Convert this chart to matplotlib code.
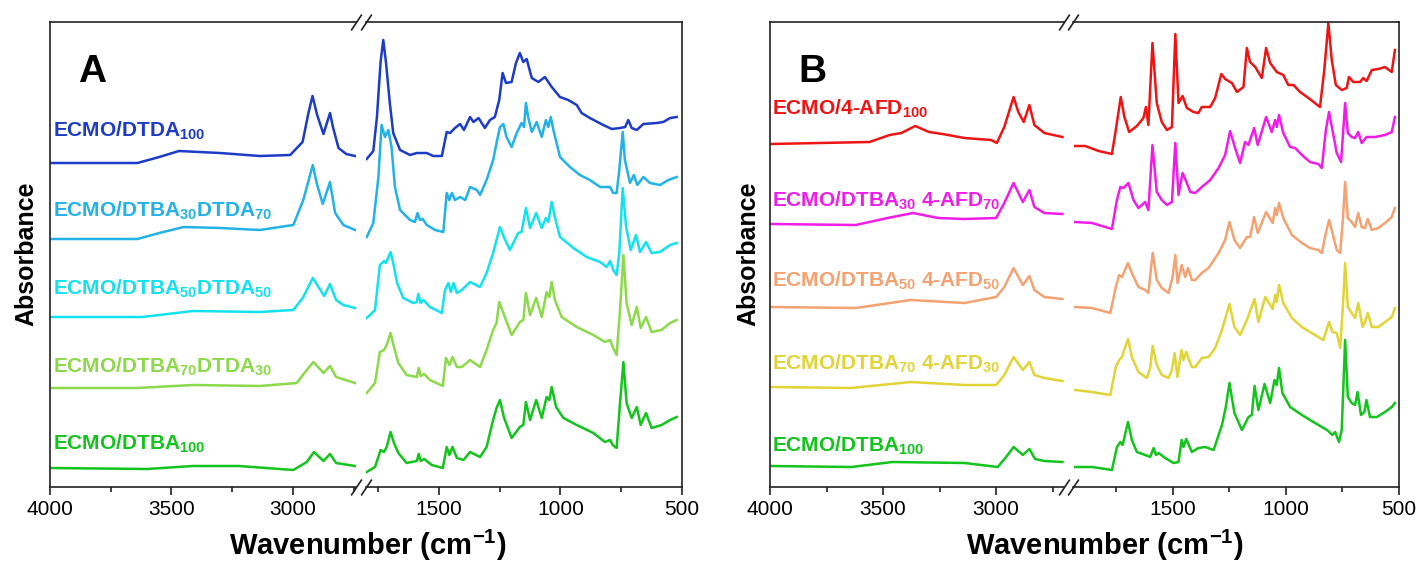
import matplotlib
matplotlib.use('Agg')
import matplotlib.pyplot as plt

plt.rcParams['font.family'] = ['Liberation Sans', 'DejaVu Sans']
plt.rcParams['mathtext.fontset'] = 'custom'
plt.rcParams['mathtext.rm'] = 'Liberation Sans'
plt.rcParams['mathtext.bf'] = 'Liberation Sans:bold'
plt.rcParams['mathtext.it'] = 'Liberation Sans:italic'

NaN = float('nan')

# ---------------- Panel A data (wavenumber, absorbance in arbitrary units) -------------
A1_wn = [4000, 3800, 3640, 3550, 3469, 3300, 3136, 3011, 2960, 2935, 2919, 2900, 2874, 2847, 2835, 2812, 2780, 2744, NaN,
         1797, 1770, 1755, 1740, 1729, 1718, 1702, 1688, 1660, 1619, 1591, 1550, 1523, 1488, 1468, 1454, 1434, 1413, 1397,
         1372, 1358, 1337, 1311, 1290, 1270, 1252, 1238, 1224, 1201, 1183, 1167, 1153, 1139, 1118, 1091, 1064, 1036, 1002,
         968, 933, 913, 879, 824, 789, 755, 734, 721, 707, 686, 659, 604, 577, 549, 522]
A1_ab = [324, 324, 324, 330, 336, 334, 331, 332, 345, 375, 391, 372, 353, 374, 360, 339, 333, 331, NaN,
         328, 336, 370, 425, 447, 425, 384, 354, 337, 332, 334, 334, 331, 331, 355, 354, 359, 363, 357,
         370, 365, 369, 359, 367, 370, 387, 414, 404, 405, 424, 434, 425, 428, 409, 405, 410, 400, 390,
         387, 382, 374, 369, 362, 358, 359, 360, 367, 359, 357, 363, 364, 365, 369, 370]

A2_wn = [4000, 3640, 3550, 3450, 3300, 3136, 2998, 2957, 2918, 2902, 2877, 2847, 2826, 2792, 2744, NaN,
         1797, 1770, 1749, 1736, 1722, 1708, 1695, 1681, 1660, 1619, 1599, 1588, 1578, 1567, 1550, 1516, 1482, 1468,
         1457, 1447, 1434, 1413, 1392, 1372, 1344, 1331, 1304, 1277, 1263, 1249, 1235, 1222, 1201, 1180, 1160, 1150,
         1142, 1132, 1118, 1098, 1077, 1060, 1050, 1040, 1029, 1002, 961, 920, 879, 837, 796, 783, 769, 758, 744, 735,
         714, 698, 684, 659, 632, 591, 556, 522]
A2_ab = [248, 248, 254, 260, 259, 257, 262, 287, 322, 304, 283, 305, 274, 262, 257, NaN,
         250, 264, 310, 362, 350, 357, 340, 300, 277, 267, 265, 274, 267, 268, 262, 257, 255, 294,
         287, 294, 287, 290, 287, 300, 297, 292, 307, 327, 344, 360, 363, 350, 340, 354, 364, 360,
         384, 369, 355, 365, 350, 367, 360, 370, 357, 330, 320, 312, 307, 300, 300, 294, 294, 317, 355, 327,
         304, 312, 302, 310, 304, 302, 307, 310]

A3_wn = [4000, 3620, 3412, 3136, 2998, 2957, 2918, 2871, 2847, 2822, 2792, 2744, NaN,
         1797, 1763, 1743, 1726, 1718, 1699, 1688, 1672, 1647, 1606, 1591, 1585, 1575, 1564, 1537, 1488, 1475, 1461,
         1451, 1440, 1426, 1406, 1372, 1331, 1304, 1277, 1263, 1249, 1233, 1208, 1174, 1160, 1142, 1125, 1100, 1077,
         1060, 1050, 1036, 1023, 1002, 947, 892, 837, 810, 796, 783, 769, 758, 744, 730, 711, 689, 673, 648, 625, 591,
         549, 522]
A3_ab = [170, 170, 176, 175, 177, 190, 209, 191, 203, 187, 182, 179, NaN,
         169, 177, 222, 226, 224, 235, 224, 204, 189, 184, 185, 193, 184, 187, 180, 174, 197, 204,
         195, 204, 194, 197, 205, 200, 214, 234, 247, 260, 250, 237, 254, 255, 279, 259, 274, 259,
         269, 265, 285, 270, 250, 239, 230, 225, 220, 226, 217, 212, 234, 299, 260, 237, 252, 235, 245, 234, 235,
         242, 244]

A4_wn = [4000, 3640, 3412, 3136, 2984, 2943, 2915, 2874, 2847, 2822, 2744, NaN,
         1797, 1763, 1743, 1726, 1715, 1699, 1685, 1667, 1633, 1591, 1583, 1575, 1561, 1537, 1484, 1471, 1457, 1444,
         1426, 1406, 1372, 1331, 1304, 1277, 1263, 1252, 1235, 1201, 1167, 1153, 1142, 1125, 1100, 1077, 1057, 1046,
         1036, 1023, 995, 933, 865, 817, 796, 785, 769, 755, 741, 728, 707, 686, 670, 648, 625, 584, 549, 522]
A4_ab = [99, 99, 102, 101, 104, 117, 125, 114, 121, 110, 104, NaN,
         94, 104, 135, 137, 142, 154, 140, 124, 112, 110, 119, 111, 113, 107, 101, 129, 122, 130,
         120, 120, 127, 120, 137, 157, 164, 185, 174, 152, 165, 167, 194, 172, 189, 170, 195, 190,
         205, 187, 170, 160, 152, 145, 147, 140, 132, 177, 232, 184, 162, 180, 159, 170, 155, 157, 164, 167]

A5_wn = [4000, 3600, 3412, 3222, 2998, 2984, 2943, 2913, 2874, 2847, 2822, 2744, NaN,
         1797, 1763, 1740, 1726, 1715, 1699, 1685, 1667, 1633, 1591, 1583, 1575, 1561, 1530, 1484, 1468, 1457, 1444,
         1426, 1399, 1372, 1331, 1304, 1277, 1263, 1249, 1233, 1201, 1167, 1153, 1142, 1125, 1100, 1077, 1057, 1046,
         1036, 1018, 988, 933, 865, 817, 796, 785, 769, 755, 741, 728, 707, 686, 670, 648, 625, 584, 549, 522]
A5_ab = [19, 18, 21, 21, 17, 19, 25, 35, 26, 33, 24, 21, NaN,
         15, 20, 37, 35, 40, 55, 44, 34, 24, 26, 33, 26, 28, 22, 19, 40, 32, 40,
         29, 27, 35, 30, 40, 67, 79, 87, 70, 49, 60, 62, 85, 67, 87, 69, 90, 87,
         100, 80, 69, 62, 54, 45, 47, 42, 39, 84, 125, 84, 69, 80, 62, 74, 59, 62, 67, 70]

# ---------------- Panel B data ----------------
B1_wn = [4000, 3560, 3471, 3419, 3358, 3297, 3237, 3140, 3022, 2997, 2964, 2923, 2902, 2878, 2853, 2831, 2787, 2707, NaN,
         1930, 1886, 1827, 1768, 1751, 1729, 1713, 1692, 1658, 1629, 1618, 1607, 1589, 1570, 1548, 1525, 1503, 1488,
         1474, 1456, 1437, 1408, 1386, 1371, 1334, 1312, 1285, 1268, 1238, 1216, 1187, 1172, 1158, 1135, 1106, 1087,
         1069, 1040, 1011, 989, 966, 937, 900, 849, 830, 812, 797, 779, 753, 731, 721, 702, 672, 658, 643, 620, 591,
         562, 532, 518]
B1_ab = [343, 345, 352, 354, 361, 355, 353, 349, 347, 344, 360, 390, 375, 365, 382, 362, 354, 350, NaN,
         341, 341, 336, 333, 357, 390, 370, 355, 361, 369, 380, 362, 444, 384, 365, 357, 360, 453,
         384, 391, 379, 375, 374, 380, 380, 389, 413, 408, 404, 395, 400, 439, 425, 420, 409, 439,
         424, 415, 412, 402, 402, 395, 389, 380, 417, 464, 427, 402, 397, 399, 410, 405, 405, 409, 406, 417, 418,
         420, 415, 437]

B2_wn = [4000, 3621, 3480, 3368, 3257, 3140, 3000, 2964, 2923, 2882, 2853, 2831, 2787, 2707, NaN,
         1930, 1856, 1768, 1746, 1731, 1717, 1695, 1673, 1651, 1621, 1607, 1589, 1570, 1548, 1525, 1503, 1488, 1474,
         1456, 1437, 1422, 1400, 1371, 1334, 1297, 1268, 1246, 1224, 1202, 1180, 1165, 1140, 1124, 1087, 1062, 1047,
         1040, 1030, 1011, 981, 959, 929, 893, 856, 841, 823, 809, 794, 775, 756, 746, 738, 726, 709, 694, 680, 665,
         643, 606, 562, 532, 518]
B2_ab = [263, 262, 269, 274, 269, 268, 269, 284, 304, 285, 297, 280, 274, 273, NaN,
         265, 264, 258, 287, 300, 299, 304, 287, 279, 285, 277, 342, 295, 287, 282, 285, 344, 292,
         314, 304, 295, 294, 300, 307, 319, 332, 356, 339, 324, 345, 342, 359, 342, 370, 355, 367,
         360, 372, 354, 340, 339, 332, 325, 323, 319, 357, 375, 357, 334, 325, 357, 384, 354, 350, 349, 355, 344,
         350, 350, 352, 355, 370]

B3_wn = [4000, 3621, 3378, 3140, 3000, 2964, 2923, 2882, 2853, 2831, 2787, 2707, NaN,
         1930, 1856, 1775, 1751, 1736, 1724, 1697, 1680, 1651, 1621, 1607, 1588, 1570, 1548, 1518, 1500, 1488, 1478,
         1460, 1444, 1432, 1415, 1400, 1371, 1341, 1297, 1268, 1249, 1227, 1202, 1172, 1158, 1140, 1124, 1087, 1058,
         1047, 1040, 1030, 1011, 973, 929, 893, 856, 841, 823, 809, 794, 775, 760, 748, 738, 726, 709, 694, 680, 665,
         650, 638, 620, 591, 562, 532, 518]
B3_ab = [180, 179, 187, 184, 190, 200, 219, 202, 211, 197, 190, 188, NaN,
         180, 179, 174, 200, 212, 210, 224, 214, 200, 197, 194, 234, 207, 199, 194, 210, 232, 204,
         222, 210, 219, 207, 207, 214, 219, 234, 247, 265, 247, 239, 250, 250, 270, 254, 275, 264,
         279, 272, 284, 269, 252, 244, 239, 237, 234, 254, 267, 254, 237, 234, 267, 305, 269, 265, 260, 274, 260,
         259, 268, 257, 259, 264, 270, 279]

B4_wn = [4000, 3643, 3378, 3140, 3000, 2964, 2923, 2882, 2853, 2831, 2787, 2707, NaN,
         1930, 1856, 1775, 1751, 1736, 1724, 1697, 1680, 1651, 1614, 1599, 1588, 1570, 1548, 1518, 1503, 1491, 1479,
         1460, 1452, 1440, 1415, 1400, 1371, 1341, 1312, 1282, 1249, 1227, 1202, 1172, 1138, 1121, 1091, 1058, 1047,
         1040, 1030, 1011, 973, 929, 893, 849, 834, 809, 794, 775, 760, 748, 738, 726, 709, 694, 680, 661, 650, 638,
         620, 591, 562, 532, 518]
B4_ab = [100, 99, 105, 102, 102, 112, 130, 117, 125, 112, 109, 106, NaN,
         97, 95, 92, 120, 127, 130, 148, 130, 115, 109, 119, 141, 122, 112, 109, 117, 134, 110,
         137, 127, 135, 120, 120, 129, 130, 139, 157, 183, 160, 152, 167, 188, 165, 190, 178, 192,
         185, 202, 184, 169, 160, 155, 149, 147, 165, 155, 154, 139, 180, 224, 180, 174, 169, 184, 160, 165, 174,
         160, 160, 165, 170, 179]

B5_wn = [4000, 3640, 3459, 3140, 2993, 2956, 2923, 2882, 2853, 2828, 2787, 2707, NaN,
         1930, 1856, 1768, 1746, 1731, 1721, 1697, 1680, 1658, 1621, 1599, 1584, 1573, 1562, 1533, 1496, 1474, 1460,
         1452, 1440, 1415, 1386, 1356, 1319, 1282, 1265, 1249, 1227, 1194, 1165, 1150, 1138, 1121, 1094, 1069, 1050,
         1040, 1030, 1015, 981, 929, 893, 856, 818, 794, 782, 765, 753, 738, 726, 709, 694, 683, 668, 653, 644, 628,
         598, 562, 532, 518]
B5_ab = [21, 20, 25, 24, 20, 30, 40, 32, 38, 28, 26, 25, NaN,
         20, 20, 17, 40, 45, 42, 65, 47, 35, 32, 30, 39, 32, 34, 29, 24, 25, 47,
         40, 48, 35, 39, 40, 37, 62, 80, 104, 74, 57, 70, 72, 101, 77, 103, 84, 107,
         102, 119, 94, 80, 72, 67, 62, 57, 52, 55, 45, 57, 147, 90, 84, 82, 95, 72, 75, 87, 70,
         70, 75, 80, 84]

A_series = [(A1_wn, A1_ab), (A2_wn, A2_ab), (A3_wn, A3_ab), (A4_wn, A4_ab), (A5_wn, A5_ab)]
B_series = [(B1_wn, B1_ab), (B2_wn, B2_ab), (B3_wn, B3_ab), (B4_wn, B4_ab), (B5_wn, B5_ab)]

A_labels = [r'ECMO/DTDA$_{\mathbf{100}}$',
            r'ECMO/DTBA$_{\mathbf{30}}$DTDA$_{\mathbf{70}}$',
            r'ECMO/DTBA$_{\mathbf{50}}$DTDA$_{\mathbf{50}}$',
            r'ECMO/DTBA$_{\mathbf{70}}$DTDA$_{\mathbf{30}}$',
            r'ECMO/DTBA$_{\mathbf{100}}$']
B_labels = [r'ECMO/4-AFD$_{\mathbf{100}}$',
            r'ECMO/DTBA$_{\mathbf{30}}$ 4-AFD$_{\mathbf{70}}$',
            r'ECMO/DTBA$_{\mathbf{50}}$ 4-AFD$_{\mathbf{50}}$',
            r'ECMO/DTBA$_{\mathbf{70}}$ 4-AFD$_{\mathbf{30}}$',
            r'ECMO/DTBA$_{\mathbf{100}}$']

A_colors = ['#1c3cc8', '#22b2e8', '#12e2ee', '#8cd94a', '#12c41c']
B_colors = ['#ef1414', '#f01ce8', '#f4a272', '#e0d436', '#12c41c']

left_major = [4000, 3500, 3000]
left_minor = [3750, 3250, 2750]
right_major = [1500, 1000, 500]
right_minor = [1750, 1250, 750]

# ---------------- layout ----------------
W, H = 1418, 563
fig = plt.figure(figsize=(W / 100, H / 100), dpi=100)
AX_TOP, AX_BOT = 22, 487


def add_ax(x0, x1):
    return fig.add_axes([x0 / W, (H - AX_BOT) / H, (x1 - x0) / W, (AX_BOT - AX_TOP) / H])


def ftext(x, y, s, **kw):
    return fig.text(x / W, 1 - y / H, s, **kw)


def style(ax, side):
    ax.set_ylim(0, 465)
    ax.set_yticks([])
    for sp in ax.spines.values():
        sp.set_linewidth(1.2)
        sp.set_color('#222222')
    if side == 'left':
        ax.spines['right'].set_visible(False)
        ax.set_xticks(left_major)
        ax.set_xticks(left_minor, minor=True)
    else:
        ax.spines['left'].set_visible(False)
        ax.set_xticks(right_major)
        ax.set_xticks(right_minor, minor=True)
    ax.tick_params(axis='x', which='major', length=5.8, width=1.2, direction='out',
                   labelsize=15, pad=3.5, colors='#222222', labelcolor='black')
    ax.tick_params(axis='x', which='minor', length=3.6, width=1.2, direction='out', colors='#222222')
    ax.patch.set_alpha(0)


def breaks(ax, xpos):
    kw = dict(marker=[(-1, -1.5), (1, 1.5)], markersize=11.5, linestyle='none',
              color='#222222', mec='#222222', mew=1.2, clip_on=False, transform=ax.transAxes)
    ax.plot([xpos, xpos], [0, 1], **kw)


panels = [
    dict(series=A_series, colors=A_colors, labels=A_labels, lx=(50, 356), rx=(366, 682),
         lxlim=(4000, 2740), rxlim=(1800, 500),
         lab_x=53, lab_y=[137, 217, 295, 373, 450], letter='A', letter_x=78,
         ylab_x=26, xlab_x=368),
    dict(series=B_series, colors=B_colors, labels=B_labels, lx=(770, 1064), rx=(1073, 1399),
         lxlim=(4000, 2700), rxlim=(1940, 500),
         lab_x=772, lab_y=[115, 207, 287, 370, 452], letter='B', letter_x=798,
         ylab_x=748, xlab_x=1105),
]

for p in panels:
    axl = add_ax(*p['lx'])
    axr = add_ax(*p['rx'])
    for (wn, ab), c in zip(p['series'], p['colors']):
        axl.plot(wn, ab, color=c, lw=1.8, solid_joinstyle='round')
        axr.plot(wn, ab, color=c, lw=1.8, solid_joinstyle='round')
    axl.set_xlim(*p['lxlim'])
    axr.set_xlim(*p['rxlim'])
    style(axl, 'left')
    style(axr, 'right')
    breaks(axl, 1)
    breaks(axr, 0)

    for s, c, y in zip(p['labels'], p['colors'], p['lab_y']):
        ftext(p['lab_x'], y, s, color=c, fontsize=15, fontweight='bold', ha='left', va='baseline')

    ftext(p['letter_x'], 82, p['letter'], fontsize=28, fontweight='bold', ha='left', va='baseline')
    ftext(p['ylab_x'], 254, 'Absorbance', fontsize=18, fontweight='bold', rotation=90,
          ha='center', va='center')
    ftext(p['xlab_x'], 555, r'Wavenumber (cm$^{\mathbf{-1}}$)', fontsize=21, fontweight='bold',
          ha='center', va='baseline')

fig.savefig('out.png', dpi=100)
